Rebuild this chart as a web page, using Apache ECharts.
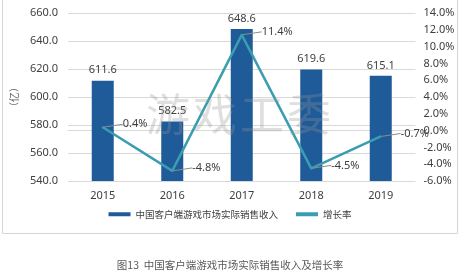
<!DOCTYPE html>
<html><head><meta charset="utf-8">
<script src="https://cdn.jsdelivr.net/npm/echarts@6/dist/echarts.min.js"></script>
<style>html,body{margin:0;padding:0;background:#fff}#c{width:460px;height:273px}</style>
</head><body><div id="c"></div>
<script>
var categories = ['2015','2016','2017','2018','2019'];
var revenue = [611.6, 582.5, 648.6, 619.6, 615.1];
var growth = [0.4, -4.8, 11.4, -4.5, -0.7];
var seriesNames = ['中国客户端游戏市场实际销售收入','增长率'];
var caption = '图13  中国客户端游戏市场实际销售收入及增长率';
var watermark = ['游','戏','工','委'];

var FONT = '"Noto Sans", "Noto Sans CJK SC", sans-serif';
var chart = echarts.init(document.getElementById('c'), null, {renderer:'canvas'});
var wm = watermark.map(function(ch, i){
  return {type:'text', left: 146 + i*47, top: 92, z: 100, silent:true,
    style:{text: ch, fill:'rgba(150,150,150,0.3)', font:'44px "Noto Sans CJK SC"'}};
});
chart.setOption({
  animation:false,
  textStyle:{fontFamily:FONT},
  grid:{left:68, right:44.5, top:13, bottom:92},
  graphic:[{type:'rect', shape:{x:2.5, y:-2, width:455, height:235.5}, style:{fill:'none', stroke:'#d6d6d6', lineWidth:1}, z:-1}].concat(wm),
  title:{text:caption, left:'center', top:255, textStyle:{fontSize:10.5, fontWeight:'normal', color:'#595959', fontFamily:'"Noto Sans CJK SC"'}},
  legend:{bottom:49, left:'center', itemWidth:22, itemHeight:4, itemGap:18,
    textStyle:{fontSize:9.5, color:'#404040', fontFamily:'"Noto Sans CJK SC"'},
    data:[{name:seriesNames[0], icon:'rect'}, {name:seriesNames[1], icon:'rect'}]},
  xAxis:{type:'category', data:categories, axisTick:{show:false},
    axisLine:{lineStyle:{color:'#d9d9d9'}},
    axisLabel:{color:'#404040', fontSize:11, margin:9}},
  yAxis:[
    {type:'value', min:540, max:660, interval:20, name:'（亿）', nameLocation:'middle', nameRotate:90, nameGap:40,
     nameTextStyle:{fontSize:10, color:'#595959', fontFamily:'"Noto Sans CJK SC"'},
     axisLabel:{color:'#404040', fontSize:11, margin:10, formatter:function(v){return v.toFixed(1);}},
     splitLine:{lineStyle:{color:'#d9d9d9'}}, axisLine:{show:false}, axisTick:{show:false}},
    {type:'value', min:-6, max:14, interval:2, position:'right',
     axisLabel:{color:'#404040', fontSize:11, margin:8, formatter:function(v){return v.toFixed(1)+'%';}},
     splitLine:{show:false}, axisLine:{show:false}, axisTick:{show:false}}
  ],
  series:[
    {name:seriesNames[0], type:'bar', data:revenue, barWidth:22, itemStyle:{color:'#1f5b99'},
     label:{show:true, position:'top', distance:5, color:'#404040', fontSize:11, formatter:function(p){return p.value.toFixed(1);}}},
    {name:seriesNames[1], type:'line', yAxisIndex:1, data:growth, symbol:'circle', symbolSize:2, showSymbol:true,
     lineStyle:{color:'#3a9db0', width:2.5}, itemStyle:{color:'#3a9db0'},
     label:{show:true, position:'right', distance:3, color:'#404040', fontSize:11, formatter:function(p){return p.value.toFixed(1)+'%';}},
     labelLine:{show:true, lineStyle:{color:'#8c8c8c', width:1}},
     labelLayout:{dx:16, dy:-3}}
  ]
});
</script></body></html>
